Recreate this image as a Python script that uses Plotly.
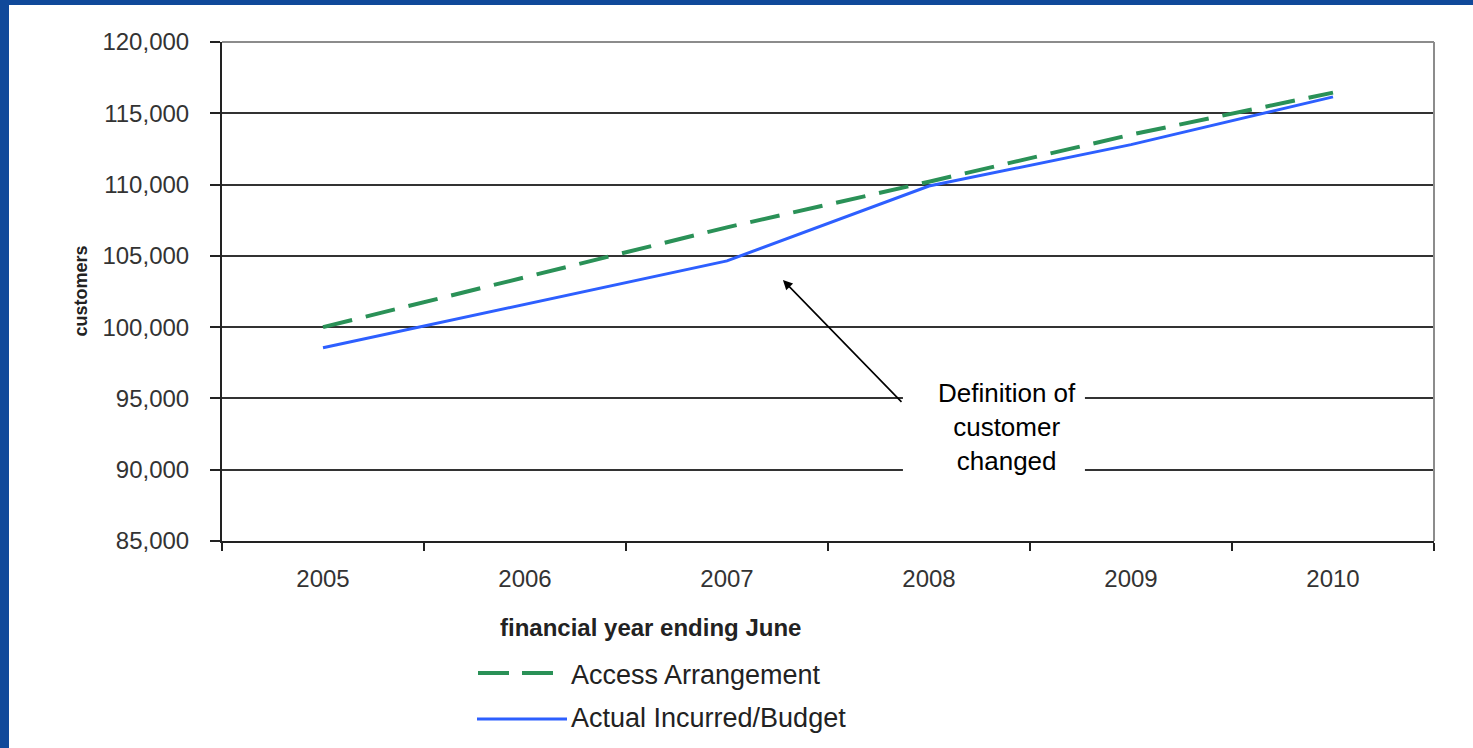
import plotly.graph_objects as go

# Customer numbers by financial year (ending June)
years = ["2005", "2006", "2007", "2008", "2009", "2010"]
access_arrangement = [100000, 103500, 107000, 110200, 113500, 116450]
actual_incurred_budget = [98550, 101600, 104650, 109900, 112800, 116150]

y_ticks = [85000, 90000, 95000, 100000, 105000, 110000, 115000, 120000]

GREEN = "#2A9157"
BLUE = "#2D5FFF"
FONT = "Liberation Sans, Arial, sans-serif"

# plot area in pixels, used to place paper-referenced extras
W, H = 1473, 748
L, R, T, B = 222, 39, 42, 207
PW, PH = W - L - R, H - T - B


def px(xp):
    return (xp - L) / PW


def py(yp):
    return (H - B - yp) / PH


fig = go.Figure()

fig.add_trace(go.Scatter(
    x=years, y=access_arrangement, mode="lines", name="Access Arrangement",
    line=dict(color=GREEN, width=4, dash="30px,14px"), showlegend=False,
))
fig.add_trace(go.Scatter(
    x=years, y=actual_incurred_budget, mode="lines", name="Actual Incurred/Budget",
    line=dict(color=BLUE, width=3), showlegend=False,
))

shapes = [
    # white card over the blue slide background
    dict(type="rect", xref="paper", yref="paper", layer="below",
         x0=px(9), x1=px(W + 20), y0=py(5), y1=py(H + 20),
         fillcolor="white", line=dict(width=0)),
    # grey frame on top and right of the plot area
    dict(type="line", xref="paper", yref="paper", x0=0, x1=1, y0=1, y1=1,
         line=dict(color="#8C8C8C", width=2)),
    dict(type="line", xref="paper", yref="paper", x0=1, x1=1, y0=0, y1=1,
         line=dict(color="#8C8C8C", width=2)),
    # white panel behind the callout text
    dict(type="rect", xref="x", yref="y", layer="above",
         x0=2.871, x1=3.772, y0=88900, y1=96850,
         fillcolor="white", line=dict(width=0)),
    # legend line samples
    dict(type="line", xref="paper", yref="paper", x0=px(478), x1=px(557),
         y0=py(673), y1=py(673), line=dict(color=GREEN, width=4, dash="31px,13px")),
    dict(type="line", xref="paper", yref="paper", x0=px(477), x1=px(567),
         y0=py(719), y1=py(719), line=dict(color=BLUE, width=3)),
]

annotations = [
    # legend labels
    dict(xref="paper", yref="paper", x=px(569), y=py(675), xanchor="left", yanchor="middle",
         text="Access Arrangement", showarrow=False,
         font=dict(family=FONT, size=27, color="#222")),
    dict(xref="paper", yref="paper", x=px(569), y=py(718), xanchor="left", yanchor="middle",
         text="Actual Incurred/Budget", showarrow=False,
         font=dict(family=FONT, size=27, color="#222")),
    # axis titles
    dict(xref="paper", yref="paper", x=px(650), y=py(627), xanchor="center", yanchor="middle",
         text="<b>financial year ending June</b>", showarrow=False,
         font=dict(family=FONT, size=24, color="#222")),
    dict(xref="paper", yref="paper", x=px(80), y=0.5, xanchor="center", yanchor="middle",
         text="<b>customers</b>", textangle=-90, showarrow=False,
         font=dict(family=FONT, size=18, color="#222")),
    # callout text
    dict(x=3.386, y=93000, xref="x", yref="y", xanchor="center", yanchor="middle",
         text="Definition of<br>customer<br>changed", showarrow=False, align="center",
         font=dict(family=FONT, size=26, color="black")),
    # arrow pointing at the 2007 change
    dict(x=2.277, y=103300, xref="x", yref="y", axref="x", ayref="y",
         ax=2.871, ay=94650, text="", showarrow=True,
         arrowhead=2, arrowsize=1.2, arrowwidth=1.6, arrowcolor="black", standoff=0),
]

fig.update_layout(
    width=W, height=H,
    margin=dict(l=L, r=R, t=T, b=B),
    paper_bgcolor="#10499A",
    plot_bgcolor="white",
    shapes=shapes,
    annotations=annotations,
    showlegend=False,
    font=dict(family=FONT, color="#333"),
)

fig.update_xaxes(
    type="category", tickson="boundaries", showgrid=False,
    range=[-0.5, 5.5],
    ticks="outside", ticklen=8, tickwidth=2, tickcolor="#222",
    showline=True, linecolor="#222", linewidth=2,
    tickfont=dict(family=FONT, size=24, color="#333"),
    ticklabelstandoff=15,
)
fig.update_yaxes(
    range=[85000, 120000], tickvals=y_ticks, tickformat=",",
    showgrid=True, gridcolor="#333333", gridwidth=2, zeroline=False,
    ticks="outside", ticklen=10, tickwidth=2, tickcolor="#222",
    showline=True, linecolor="#222", linewidth=2,
    tickfont=dict(family=FONT, size=24, color="#333"),
    ticklabelstandoff=16,
)

fig.write_html("out.html")
